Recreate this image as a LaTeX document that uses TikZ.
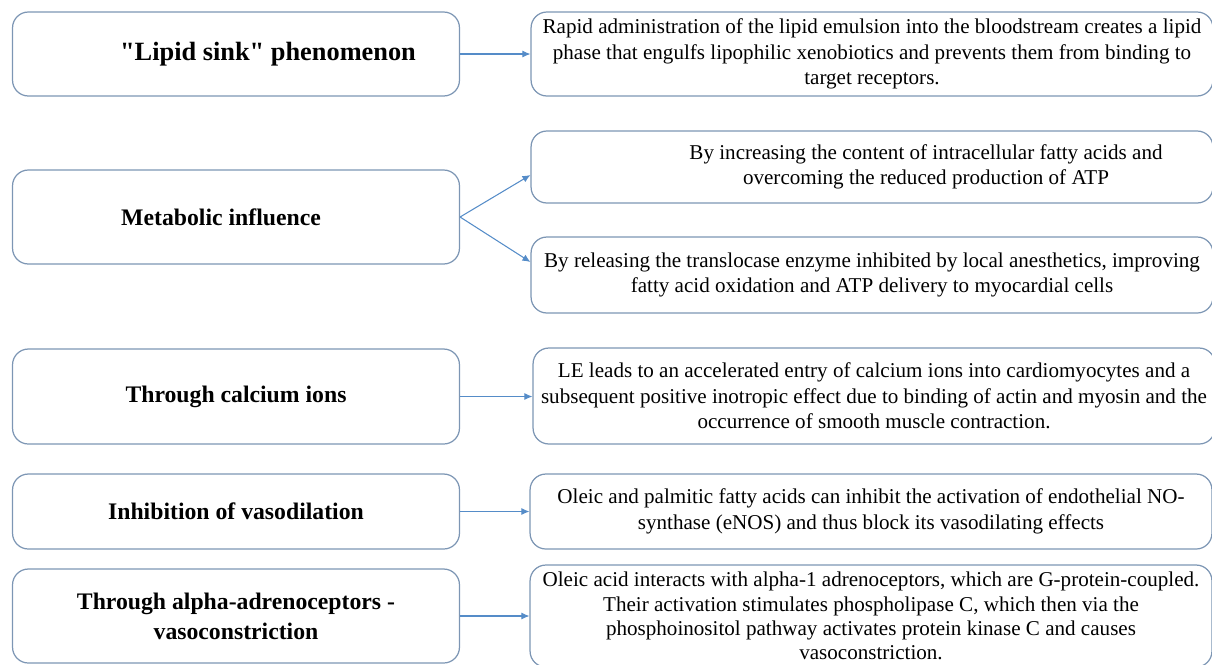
\documentclass[tikz,border=0pt]{standalone}
\usepackage{fontspec}
\setmainfont{Liberation Serif}[Ligatures=TeXOff]
\usetikzlibrary{arrows.meta,positioning,calc}
\definecolor{boxcolor}{RGB}{125,150,180}
\definecolor{linkcolor}{RGB}{85,140,200}
\tikzset{
  leftbox/.style={draw=boxcolor, line width=0.7pt, rounded corners=9pt, minimum width=8.94cm,
    inner sep=0pt, align=center, font=\bfseries\fontsize{13.5}{17}\selectfont},
  rightbox/.style={draw=boxcolor, line width=0.7pt, rounded corners=9pt, minimum width=13.64cm,
    inner sep=0pt, align=center, font=\fontsize{12}{14.5}\selectfont},
  link/.style={-{Latex[length=1.6mm,width=1.4mm]}, line width=0.6pt, linkcolor},
}

\begin{document}
\begin{tikzpicture}[x=0.02cm, y=-0.02cm]
  % page frame, right and bottom boxes run off it
  \path[use as bounding box] (0,0) rectangle (1212,664);
  \clip (0,0) rectangle (1212,664);
  % mechanisms (left column)
  \node[leftbox, minimum height=1.68cm, font=\bfseries\fontsize{15}{18}\selectfont] (sink) at (236,54)
    {\hspace*{1.28cm}"Lipid sink" phenomenon};
  \node[leftbox, minimum height=1.88cm] (metab) at (236,217) {Metabolic influence\hspace*{0.6cm}};
  \node[leftbox, minimum height=1.9cm] (calc) at (236,396.5) {Through calcium ions};
  \node[leftbox, minimum height=1.5cm] (inhib) at (236,511.5) {Inhibition of vasodilation};
  \node[leftbox, minimum height=1.88cm] (alpha) at (236,616) {Through alpha-adrenoceptors -\\vasoconstriction};
  % explanations (right column)
  \node[rightbox, minimum height=1.68cm] (sinktxt) at (872,54) {Rapid administration of the lipid emulsion into the bloodstream creates a lipid\\
    phase that engulfs lipophilic xenobiotics and prevents them from binding to\\
    target receptors.};
  \node[rightbox, minimum height=1.44cm] (fatty) at (872,167) {\hspace*{2.16cm}By increasing the content of intracellular fatty acids and\\
    \hspace*{2.16cm}overcoming the reduced production of ATP};
  \node[rightbox, minimum height=1.52cm] (transl) at (872,275) {By releasing the translocase enzyme inhibited by local anesthetics, improving\\
    fatty acid oxidation and ATP delivery to myocardial cells};
  \node[rightbox, minimum height=1.92cm] (calctxt) at (874,396) {LE leads to an accelerated entry of calcium ions into cardiomyocytes and a\\
    subsequent positive inotropic effect due to binding of actin and myosin and the\\
    occurrence of smooth muscle contraction.};
  \node[rightbox, minimum height=1.5cm] (inhibtxt) at (871,511.5) {Oleic and palmitic fatty acids can inhibit the activation of endothelial NO-\\
    synthase (eNOS) and thus block its vasodilating effects};
  \node[rightbox, minimum height=2.04cm, font=\fontsize{12}{13.8}\selectfont] (alphatxt) at (871,616)
    {Oleic acid interacts with alpha-1 adrenoceptors, which are G-protein-coupled.\\
    Their activation stimulates phospholipase C, which then via the\\
    phosphoinositol pathway activates protein kinase C and causes\\
    vasoconstriction.};
  % links
  \draw[link] (sink.east) -- (sink.east -| sinktxt.west);
  \draw[link] (metab.east) -- ([yshift=-0.16cm]fatty.west);
  \draw[link] (metab.east) -- ([yshift=0.26cm]transl.west);
  \draw[link] (calc.east) -- (calc.east -| calctxt.west);
  \draw[link] (inhib.east) -- (inhib.east -| inhibtxt.west);
  \draw[link] (alpha.east) -- (alpha.east -| alphatxt.west);
\end{tikzpicture}
\end{document}
